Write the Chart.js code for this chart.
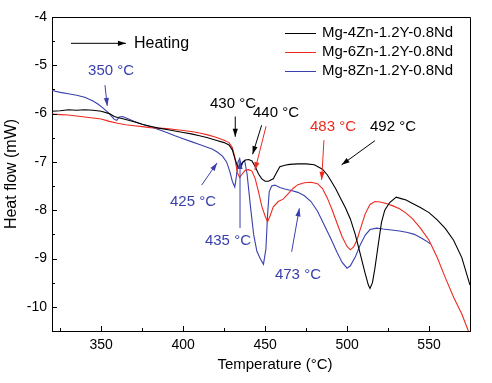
<!DOCTYPE html>
<html>
<head>
<meta charset="utf-8">
<script src="https://cdn.jsdelivr.net/npm/chart.js@4.4.1/dist/chart.umd.min.js"></script>
<style>
  html, body { margin: 0; padding: 0; background: #fff; }
  canvas { display: block; }
</style>
</head>
<body>
<canvas id="c" width="492" height="383"></canvas>
<script>
// ---- Data ----
const seriesLabels = ["Mg-4Zn-1.2Y-0.8Nd", "Mg-6Zn-1.2Y-0.8Nd", "Mg-8Zn-1.2Y-0.8Nd"];
const seriesColors = ["#000000", "#ee2a1f", "#3a40ad"];

const tempBlack = [320,325,330,335,340,345,350,355,358,360,365,370,375,380,385,390,395,400,405,410,415,420,425,428,430,431.5,433,434.5,436,438,440,442,444,446,448,450,452,455,457,459,462,465,470,475,480,485,488,490,493,496,499,502,505,508,511,513,514,515.5,517,519,521,523,526,530,533,536,540,545,550,555,560,565,570,575];
const heatBlack = [-5.95,-5.94,-5.92,-5.93,-5.92,-5.93,-5.95,-6.00,-6.06,-6.08,-6.12,-6.17,-6.22,-6.26,-6.30,-6.33,-6.36,-6.39,-6.42,-6.46,-6.50,-6.55,-6.60,-6.65,-6.75,-6.92,-7.08,-7.12,-7.02,-6.96,-6.95,-6.98,-7.10,-7.25,-7.35,-7.40,-7.40,-7.35,-7.22,-7.10,-7.07,-7.05,-7.04,-7.04,-7.06,-7.15,-7.27,-7.38,-7.55,-7.75,-7.95,-8.18,-8.50,-8.90,-9.30,-9.55,-9.62,-9.50,-9.20,-8.72,-8.25,-8.00,-7.84,-7.73,-7.76,-7.79,-7.86,-7.95,-8.05,-8.20,-8.38,-8.62,-8.98,-9.55];

const tempRed = [320,325,330,335,340,345,350,355,360,365,370,375,380,385,390,395,400,405,410,415,420,425,428,430,431.5,433,434.5,436,438,440,442,444,446,448,450,451.5,453,455,458,461,464,467,470,474,478,482,485,488,491,494,497,500,502,504,506,508,511,514,517,520,524,528,532,536,540,545,550,555,560,565,570,574];
const heatRed = [-6.01,-6.02,-6.03,-6.05,-6.07,-6.09,-6.11,-6.16,-6.20,-6.23,-6.25,-6.27,-6.29,-6.30,-6.31,-6.33,-6.35,-6.37,-6.40,-6.44,-6.49,-6.55,-6.60,-6.70,-6.90,-7.22,-7.32,-7.25,-7.17,-7.16,-7.19,-7.35,-7.62,-7.92,-8.12,-8.24,-8.12,-7.93,-7.82,-7.77,-7.66,-7.55,-7.47,-7.43,-7.42,-7.45,-7.55,-7.75,-8.00,-8.28,-8.55,-8.75,-8.82,-8.76,-8.62,-8.40,-8.08,-7.88,-7.82,-7.83,-7.86,-7.91,-7.97,-8.06,-8.18,-8.38,-8.62,-8.98,-9.40,-9.80,-10.15,-10.50];

const tempBlue = [320,325,330,335,340,345,348,351,354,356,358,359.5,361,363,366,370,375,380,385,390,395,400,405,410,415,418,421,424,426.5,428.5,430,431.5,432.5,433.5,434.5,435.5,436.5,437.5,439,441,443,445,447,449,450.5,451.5,452.5,454,456,459,462,466,470,474,478,482,486,490,494,497,500,502,505,508,511,514,518,522,527,532,537,541,545,548,551];
const heatBlue = [-5.52,-5.56,-5.59,-5.62,-5.66,-5.74,-5.80,-5.88,-5.97,-6.04,-6.12,-6.14,-6.07,-6.06,-6.10,-6.16,-6.22,-6.27,-6.33,-6.39,-6.46,-6.52,-6.58,-6.64,-6.70,-6.74,-6.80,-6.88,-7.00,-7.20,-7.40,-7.52,-7.30,-7.00,-6.93,-7.10,-7.00,-6.97,-7.25,-7.90,-8.50,-8.85,-9.00,-9.12,-8.80,-8.10,-7.62,-7.50,-7.48,-7.53,-7.56,-7.59,-7.63,-7.70,-7.82,-8.02,-8.30,-8.58,-8.88,-9.08,-9.20,-9.15,-8.97,-8.72,-8.52,-8.40,-8.37,-8.39,-8.41,-8.43,-8.46,-8.50,-8.57,-8.63,-8.70];

const xTicks = [350, 400, 450, 500, 550];
const xMinorTicks = [325, 375, 425, 475, 525];
const yTicks = [-4, -5, -6, -7, -8, -9, -10];
const yMinorTicks = [-4.5, -5.5, -6.5, -7.5, -8.5, -9.5];

// annotations: text anchor (T, value), arrows [from T, from v, to T, to v]
const annotations = [
  { text: "Heating", color: "#000", font: "16px 'Liberation Sans', Arial, sans-serif", at: [370, -4.545], arrows: [[331.6, -4.545, 365.1, -4.545]] },
  { text: "350 °C", color: "#3a40ad", at: [342, -5.11], arrows: [[352.3, -5.41, 353.7, -5.84]] },
  { text: "430 °C", color: "#000", at: [416.4, -5.80], arrows: [[431.8, -6.06, 431.8, -6.48]] },
  { text: "440 °C", color: "#000", at: [442.6, -5.99], arrows: [[447.9, -6.24, 442.4, -6.84]] },
  { text: "", color: "#ee2a1f", at: [0, 0], arrows: [[450.6, -6.26, 443.8, -7.17]] },
  { text: "483 °C", color: "#ee2a1f", at: [477.4, -6.28], arrows: [[485.9, -6.55, 484.5, -7.37]] },
  { text: "492 °C", color: "#000", at: [514, -6.28], arrows: [[517, -6.56, 496.7, -7.06]] },
  { text: "425 °C", color: "#3a40ad", at: [392, -7.82], arrows: [[411.3, -7.48, 420.7, -7.02]] },
  { text: "435 °C", color: "#3a40ad", at: [413.3, -8.64], arrows: [[434.7, -8.37, 434.7, -6.98]] },
  { text: "473 °C", color: "#3a40ad", at: [456, -9.34], arrows: [[466.2, -8.86, 470.9, -7.96]] }
];

const FONT = "'Liberation Sans', Arial, Helvetica, sans-serif";

function pts(xs, ys) { return xs.map((x, i) => ({ x: x, y: ys[i] })); }

const decorPlugin = {
  id: 'decor',
  afterDraw(chart) {
    const ctx = chart.ctx;
    const a = chart.chartArea;
    const xs = chart.scales.x, ys = chart.scales.y;
    ctx.save();
    // frame top & right
    ctx.strokeStyle = '#000';
    ctx.lineWidth = 1;
    ctx.beginPath();
    ctx.moveTo(a.left, a.top + 0.5); ctx.lineTo(a.right + 0.5, a.top + 0.5);
    ctx.lineTo(a.right + 0.5, a.bottom);
    ctx.stroke();
    // inward ticks
    ctx.beginPath();
    xTicks.forEach(v => { const p = Math.round(xs.getPixelForValue(v)) + 0.5; ctx.moveTo(p, a.bottom); ctx.lineTo(p, a.bottom - 5); });
    xMinorTicks.forEach(v => { const p = Math.round(xs.getPixelForValue(v)) + 0.5; ctx.moveTo(p, a.bottom); ctx.lineTo(p, a.bottom - 3); });
    yTicks.forEach(v => { const p = Math.round(ys.getPixelForValue(v)) + 0.5; ctx.moveTo(a.left, p); ctx.lineTo(a.left + 5, p); });
    yMinorTicks.forEach(v => { const p = Math.round(ys.getPixelForValue(v)) + 0.5; ctx.moveTo(a.left, p); ctx.lineTo(a.left + 3, p); });
    ctx.stroke();

    // legend
    ctx.font = "15px " + FONT;
    ctx.textBaseline = 'middle';
    ctx.textAlign = 'left';
    chart.data.datasets.forEach((ds, i) => {
      const y = a.top + 16 + i * 19;
      ctx.strokeStyle = ds.borderColor;
      ctx.beginPath();
      ctx.moveTo(a.right - 185, y + 0.5); ctx.lineTo(a.right - 154, y + 0.5);
      ctx.stroke();
      ctx.fillStyle = '#000';
      ctx.fillText(ds.label, a.right - 148, y);
    });

    // annotations
    annotations.forEach(an => {
      ctx.strokeStyle = an.color;
      ctx.fillStyle = an.color;
      ctx.lineWidth = 1;
      an.arrows.forEach(ar => {
        const x1 = xs.getPixelForValue(ar[0]), y1 = ys.getPixelForValue(ar[1]);
        const x2 = xs.getPixelForValue(ar[2]), y2 = ys.getPixelForValue(ar[3]);
        ctx.beginPath(); ctx.moveTo(x1, y1); ctx.lineTo(x2, y2); ctx.stroke();
        const ang = Math.atan2(y2 - y1, x2 - x1);
        const L = 8, W = 2.6;
        ctx.beginPath();
        ctx.moveTo(x2, y2);
        ctx.lineTo(x2 - L * Math.cos(ang) + W * Math.sin(ang), y2 - L * Math.sin(ang) - W * Math.cos(ang));
        ctx.lineTo(x2 - L * Math.cos(ang) - W * Math.sin(ang), y2 - L * Math.sin(ang) + W * Math.cos(ang));
        ctx.closePath(); ctx.fill();
      });
      if (an.text) {
        ctx.font = an.font || ("15px " + FONT);
        ctx.textAlign = 'left';
        ctx.textBaseline = 'middle';
        ctx.fillText(an.text, xs.getPixelForValue(an.at[0]), ys.getPixelForValue(an.at[1]));
      }
    });

    // x axis title
    ctx.fillStyle = '#000';
    ctx.font = "15px " + FONT;
    ctx.textAlign = 'center';
    ctx.textBaseline = 'middle';
    ctx.fillText("Temperature (°C)", (a.left + a.right) / 2 + 14, 365);
    ctx.restore();
  }
};

new Chart(document.getElementById('c'), {
  type: 'line',
  data: {
    datasets: [
      { label: seriesLabels[0], data: pts(tempBlack, heatBlack), borderColor: seriesColors[0] },
      { label: seriesLabels[1], data: pts(tempRed, heatRed), borderColor: seriesColors[1] },
      { label: seriesLabels[2], data: pts(tempBlue, heatBlue), borderColor: seriesColors[2] }
    ]
  },
  options: {
    responsive: false,
    animation: false,
    devicePixelRatio: 1,
    datasets: { line: { borderWidth: 1.1, pointRadius: 0, tension: 0, fill: false } },
    layout: { padding: { top: 17, right: 22, left: 0, bottom: 0 } },
    plugins: { legend: { display: false }, tooltip: { enabled: false } },
    scales: {
      x: {
        type: 'linear', min: 320, max: 575,
        afterBuildTicks: s => { s.ticks = xTicks.map(v => ({ value: v })); },
        afterFit: s => { s.height = 52; },
        grid: { display: false, drawTicks: false },
        border: { display: true, color: '#000', width: 1 },
        ticks: { color: '#000', font: { family: FONT, size: 14 }, padding: 6, maxRotation: 0 }
      },
      y: {
        type: 'linear', min: -10.5, max: -4,
        afterBuildTicks: s => { s.ticks = yTicks.map(v => ({ value: v })); },
        afterFit: s => { s.width = 52; },
        grid: { display: false, drawTicks: false },
        border: { display: true, color: '#000', width: 1 },
        ticks: { color: '#000', font: { family: FONT, size: 14 }, padding: 5 },
        title: { display: true, text: 'Heat flow (mW)', color: '#000', font: { family: FONT, size: 16 }, padding: { top: 2, bottom: 0 } }
      }
    }
  },
  plugins: [decorPlugin]
});
</script>
</body>
</html>
